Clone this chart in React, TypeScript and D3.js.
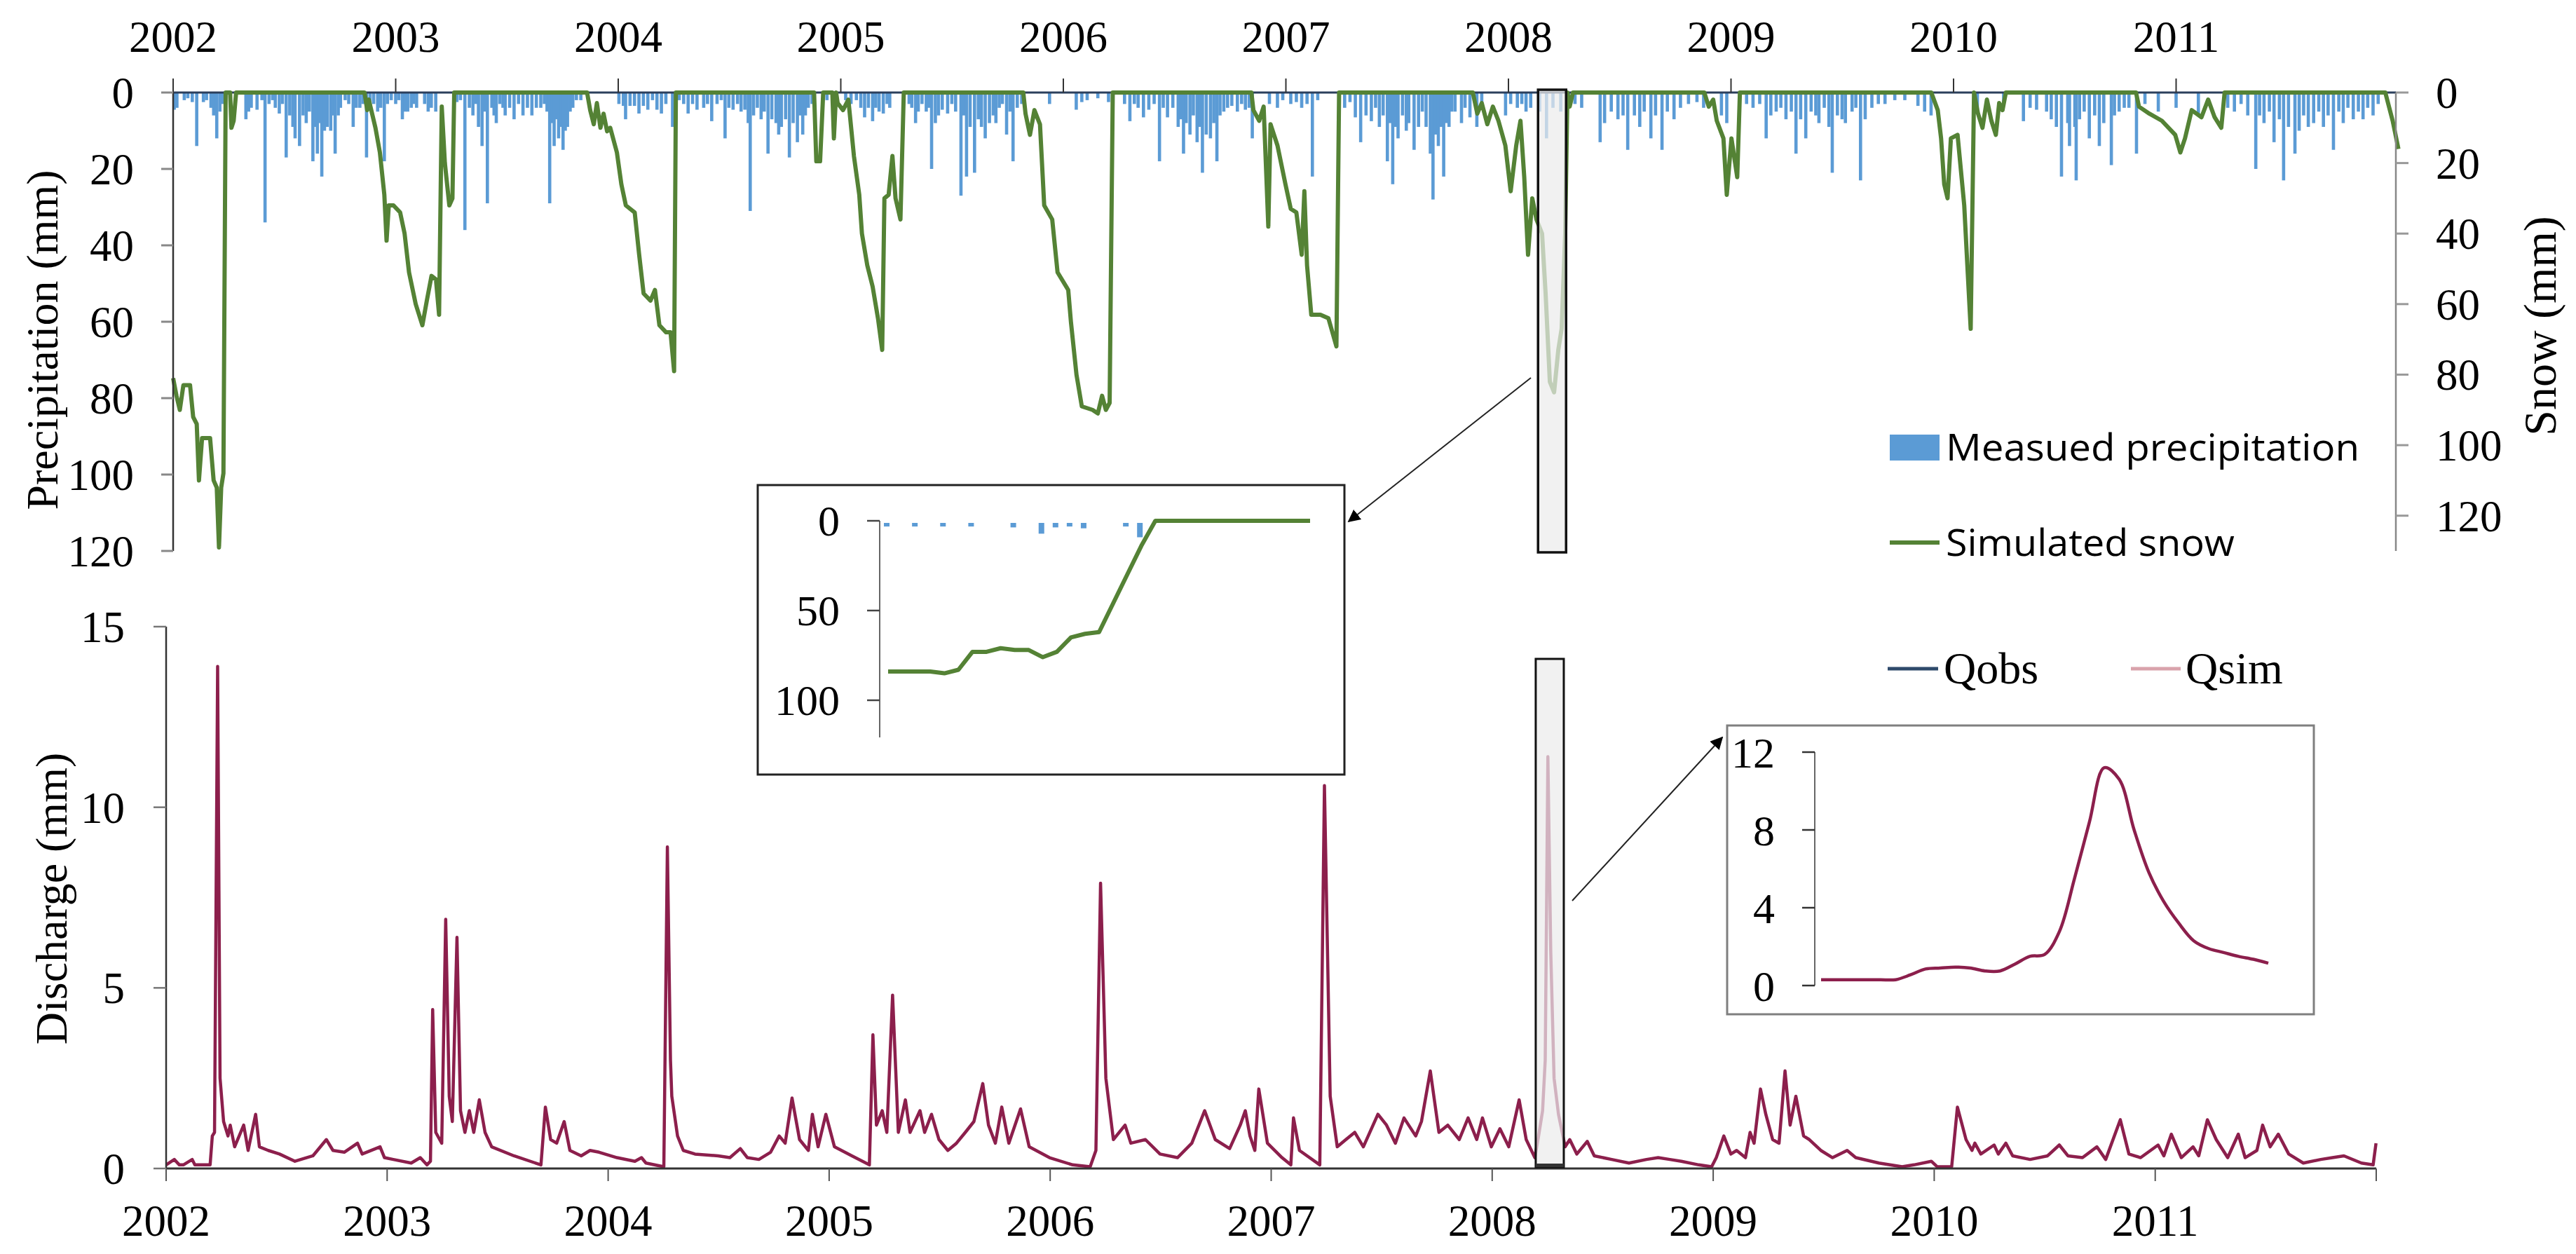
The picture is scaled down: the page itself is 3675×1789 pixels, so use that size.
import React from 'react';
import { scaleLinear, line, curveCatmullRom } from 'd3';

// ---------- values ----------
const yearTicks = [2002, 2003, 2004, 2005, 2006, 2007, 2008, 2009, 2010, 2011];
const precipTicks = [0, 20, 40, 60, 80, 100, 120];
const snowTicks = [0, 20, 40, 60, 80, 100, 120];
const dischargeTicks = [0, 5, 10, 15];
const inset1Ticks = [0, 50, 100];
const inset2Ticks = [0, 4, 8, 12];

// daily precipitation (decimal year, mm)
const precipBars: [number, number][] = [
  [2002.005, 4.5], [2002.017, 4], [2002.05, 2], [2002.066, 1.5], [2002.086, 2.5], [2002.106, 14], [2002.136, 2.5], [2002.15, 2],
  [2002.17, 4], [2002.182, 6], [2002.196, 12], [2002.21, 5], [2002.222, 3],
  [2002.327, 7], [2002.339, 5], [2002.351, 4], [2002.377, 4.5], [2002.399, 2], [2002.413, 34], [2002.431, 3], [2002.447, 2],
  [2002.459, 4], [2002.477, 5.5], [2002.491, 3], [2002.508, 17], [2002.524, 6], [2002.538, 9], [2002.548, 12], [2002.568, 14],
  [2002.584, 6], [2002.598, 8], [2002.612, 5], [2002.628, 18], [2002.638, 9], [2002.648, 16], [2002.658, 8], [2002.668, 22],
  [2002.68, 10], [2002.692, 9], [2002.708, 10], [2002.718, 6], [2002.728, 16], [2002.742, 6], [2002.752, 4], [2002.773, 2],
  [2002.789, 3], [2002.809, 9], [2002.823, 4], [2002.839, 4], [2002.853, 3], [2002.869, 17], [2002.885, 4], [2002.901, 3],
  [2002.919, 5], [2002.933, 4], [2002.949, 18], [2002.963, 3], [2002.98, 2],
  [2003.0, 3], [2003.014, 2], [2003.03, 7], [2003.042, 5], [2003.054, 5], [2003.07, 4], [2003.08, 3], [2003.094, 4],
  [2003.13, 3], [2003.146, 5], [2003.16, 4], [2003.18, 5], [2003.275, 2.5], [2003.291, 2], [2003.311, 36], [2003.331, 4],
  [2003.347, 6], [2003.361, 3], [2003.372, 9], [2003.388, 14], [2003.402, 5], [2003.412, 29], [2003.432, 4], [2003.442, 6],
  [2003.452, 8], [2003.468, 3], [2003.482, 4], [2003.492, 6], [2003.512, 4], [2003.532, 7], [2003.552, 3], [2003.572, 6],
  [2003.592, 4], [2003.612, 6], [2003.632, 4], [2003.652, 4], [2003.668, 3], [2003.68, 5], [2003.692, 29], [2003.704, 8],
  [2003.712, 14], [2003.724, 7], [2003.732, 12], [2003.744, 9], [2003.752, 15], [2003.762, 10], [2003.772, 9], [2003.784, 5],
  [2003.796, 4], [2003.812, 2], [2003.832, 2],
  [2004.003, 3], [2004.023, 3.5], [2004.033, 7], [2004.053, 3.5], [2004.073, 3.5], [2004.093, 5.5], [2004.113, 3.5],
  [2004.133, 4.5], [2004.154, 2], [2004.174, 4.5], [2004.194, 5.5], [2004.214, 3], [2004.244, 9], [2004.274, 2], [2004.294, 3],
  [2004.314, 5.5], [2004.334, 3], [2004.354, 4.5], [2004.384, 4], [2004.401, 3], [2004.42, 7.5], [2004.444, 3], [2004.463, 2],
  [2004.48, 12], [2004.497, 4], [2004.516, 4.5], [2004.536, 3], [2004.552, 5], [2004.569, 4.5], [2004.584, 8], [2004.593, 31],
  [2004.608, 6], [2004.625, 4], [2004.642, 7], [2004.656, 5], [2004.673, 16], [2004.69, 7], [2004.709, 8], [2004.721, 11],
  [2004.733, 9], [2004.752, 7], [2004.769, 17], [2004.786, 8], [2004.805, 13], [2004.817, 6], [2004.829, 11], [2004.841, 6],
  [2004.854, 4], [2004.871, 3], [2004.938, 2],
  [2005.022, 2], [2005.046, 3], [2005.07, 2], [2005.09, 4], [2005.107, 6.5], [2005.124, 4], [2005.143, 7.5], [2005.157, 4],
  [2005.172, 5], [2005.191, 5.5], [2005.208, 3], [2005.22, 4], [2005.307, 3], [2005.319, 4], [2005.336, 8], [2005.348, 5],
  [2005.365, 3], [2005.384, 5], [2005.396, 4], [2005.408, 20], [2005.425, 8], [2005.439, 6], [2005.456, 4.5], [2005.48, 5.5],
  [2005.499, 3], [2005.516, 5], [2005.54, 27], [2005.552, 6], [2005.565, 22], [2005.581, 9], [2005.601, 21], [2005.618, 7],
  [2005.632, 9], [2005.649, 12], [2005.668, 8], [2005.685, 6], [2005.697, 8], [2005.712, 4], [2005.726, 3], [2005.745, 11],
  [2005.76, 5], [2005.774, 18], [2005.793, 4], [2005.813, 3], [2005.938, 3],
  [2006.058, 4.5], [2006.083, 2.5], [2006.107, 2], [2006.155, 1.5], [2006.203, 2.5], [2006.275, 3], [2006.299, 7.5],
  [2006.319, 3], [2006.336, 4], [2006.36, 6.5], [2006.384, 4.5], [2006.408, 3], [2006.432, 18], [2006.449, 4], [2006.468, 6.5],
  [2006.492, 4], [2006.516, 9], [2006.528, 7], [2006.54, 16], [2006.552, 8], [2006.569, 11], [2006.584, 6], [2006.601, 13],
  [2006.613, 9], [2006.625, 21], [2006.642, 11], [2006.661, 12], [2006.676, 8], [2006.69, 18], [2006.704, 6], [2006.721, 5],
  [2006.738, 4], [2006.757, 3.5], [2006.782, 5], [2006.801, 3], [2006.818, 4.5], [2006.835, 4], [2006.849, 12], [2006.926, 3],
  [2006.962, 4], [2006.986, 2],
  [2007.022, 3], [2007.047, 2.5], [2007.071, 4], [2007.095, 3], [2007.119, 22], [2007.143, 2], [2007.264, 4], [2007.288, 2.5],
  [2007.312, 6.5], [2007.336, 13], [2007.36, 6], [2007.384, 7.5], [2007.403, 4], [2007.42, 9], [2007.437, 6], [2007.456, 18],
  [2007.468, 8], [2007.48, 24], [2007.492, 9], [2007.504, 12], [2007.524, 6], [2007.541, 10], [2007.552, 8], [2007.576, 15],
  [2007.596, 9], [2007.613, 5], [2007.63, 9], [2007.649, 16], [2007.661, 28], [2007.673, 11], [2007.685, 14], [2007.697, 9],
  [2007.709, 22], [2007.721, 8], [2007.733, 9], [2007.745, 5], [2007.76, 5], [2007.789, 8], [2007.805, 4], [2007.827, 6.5],
  [2007.858, 9], [2007.88, 3], [2007.987, 6],
  [2008.01, 3], [2008.04, 4], [2008.06, 3], [2008.079, 5], [2008.1, 4], [2008.14, 5], [2008.171, 12], [2008.2, 4],
  [2008.235, 5], [2008.27, 2], [2008.299, 3], [2008.329, 4], [2008.412, 13], [2008.432, 8], [2008.462, 5], [2008.492, 7],
  [2008.515, 6], [2008.536, 15], [2008.566, 6], [2008.59, 9], [2008.61, 5], [2008.64, 12], [2008.661, 6], [2008.69, 15],
  [2008.714, 5], [2008.744, 7], [2008.773, 4], [2008.809, 3], [2008.847, 2.5], [2008.877, 4], [2008.957, 6], [2008.981, 8],
  [2009.07, 3], [2009.099, 4], [2009.129, 3], [2009.158, 12], [2009.179, 6], [2009.203, 5], [2009.224, 4], [2009.247, 7],
  [2009.271, 5], [2009.292, 16], [2009.313, 7], [2009.336, 12], [2009.36, 5], [2009.381, 6], [2009.395, 8], [2009.419, 4],
  [2009.44, 9], [2009.455, 21], [2009.478, 6], [2009.499, 7], [2009.514, 8], [2009.544, 5], [2009.561, 4], [2009.582, 23],
  [2009.603, 7], [2009.633, 4], [2009.662, 3], [2009.692, 3], [2009.736, 2], [2009.781, 2], [2009.84, 3.5], [2009.87, 5],
  [2009.899, 6],
  [2010.107, 4.5], [2010.225, 3], [2010.314, 7.5], [2010.344, 4], [2010.373, 4.5], [2010.418, 5], [2010.439, 7], [2010.462, 9],
  [2010.485, 22], [2010.513, 8], [2010.521, 14], [2010.545, 9], [2010.551, 23], [2010.566, 7], [2010.587, 5], [2010.61, 12],
  [2010.634, 6], [2010.655, 14], [2010.675, 8], [2010.709, 19], [2010.723, 6], [2010.744, 5], [2010.767, 4], [2010.788, 4],
  [2010.822, 16], [2010.86, 3], [2010.92, 5], [2011.0, 4], [2011.1, 6],
  [2011.232, 4], [2011.262, 5], [2011.292, 3], [2011.322, 6], [2011.358, 20], [2011.375, 6], [2011.395, 8], [2011.419, 5],
  [2011.44, 13], [2011.464, 7], [2011.483, 23], [2011.505, 9], [2011.534, 16], [2011.553, 10], [2011.573, 6], [2011.594, 9],
  [2011.618, 8], [2011.641, 5], [2011.662, 9], [2011.683, 6], [2011.707, 15], [2011.731, 5], [2011.751, 8], [2011.772, 4],
  [2011.796, 7], [2011.819, 5], [2011.84, 7], [2011.861, 4], [2011.885, 6], [2011.908, 3],
];

// simulated snow storage (decimal year, mm)
const snowSeries: [number, number][] = [
  [2002.0, 81], [2002.015, 86], [2002.03, 90], [2002.046, 83], [2002.076, 83], [2002.09, 92], [2002.106, 94], [2002.116, 110],
  [2002.13, 98], [2002.166, 98], [2002.182, 110], [2002.196, 112], [2002.206, 129], [2002.216, 112], [2002.226, 108],
  [2002.236, 0], [2002.256, 0], [2002.262, 10], [2002.272, 8], [2002.283, 0],
  [2002.86, 0], [2002.872, 5], [2002.879, 2], [2002.909, 10], [2002.929, 17], [2002.949, 29], [2002.959, 42], [2002.969, 32],
  [2002.99, 32], [2003.02, 34], [2003.04, 40], [2003.06, 51], [2003.09, 60], [2003.12, 66], [2003.14, 59], [2003.161, 52],
  [2003.181, 53], [2003.195, 63], [2003.207, 4], [2003.221, 20], [2003.241, 32], [2003.255, 30], [2003.263, 0],
  [2003.86, 0], [2003.874, 5], [2003.89, 9], [2003.904, 3], [2003.92, 10], [2003.934, 6], [2003.95, 11], [2003.964, 10],
  [2003.994, 17], [2004.014, 26], [2004.034, 32], [2004.074, 34], [2004.094, 46], [2004.114, 57], [2004.145, 59],
  [2004.165, 56], [2004.185, 66], [2004.215, 68], [2004.235, 68], [2004.251, 79], [2004.259, 0],
  [2004.88, 0], [2004.89, 19.5], [2004.907, 19.5], [2004.921, 0], [2004.962, 0], [2004.969, 13], [2004.979, 0], [2004.986, 3],
  [2005.01, 5], [2005.034, 2], [2005.059, 18], [2005.083, 29], [2005.095, 40], [2005.119, 49], [2005.143, 55], [2005.167, 64],
  [2005.186, 73], [2005.196, 30], [2005.215, 29], [2005.232, 18], [2005.246, 30], [2005.268, 36], [2005.283, 0],
  [2005.82, 0], [2005.83, 6], [2005.85, 12], [2005.87, 5], [2005.895, 9], [2005.914, 32], [2005.95, 36], [2005.974, 51],
  [2006.022, 56], [2006.034, 65], [2006.059, 80], [2006.083, 89], [2006.131, 90], [2006.155, 91], [2006.174, 86],
  [2006.191, 90], [2006.208, 88], [2006.222, 0],
  [2006.845, 0], [2006.854, 5], [2006.88, 8], [2006.9, 4], [2006.921, 38], [2006.931, 9], [2006.962, 15], [2006.998, 26],
  [2007.022, 33], [2007.047, 34], [2007.071, 46], [2007.083, 28], [2007.095, 49], [2007.114, 63], [2007.155, 63],
  [2007.191, 64], [2007.227, 72], [2007.239, 0],
  [2007.84, 0], [2007.86, 6], [2007.88, 3], [2007.905, 9], [2007.93, 4], [2007.955, 8], [2007.986, 15], [2008.01, 28],
  [2008.035, 15], [2008.054, 8], [2008.071, 24], [2008.088, 46], [2008.107, 30], [2008.126, 36], [2008.151, 40],
  [2008.167, 57], [2008.186, 82], [2008.205, 85], [2008.224, 73], [2008.239, 67], [2008.255, 40], [2008.265, 0],
  [2008.275, 4], [2008.29, 0],
  [2008.88, 0], [2008.9, 4], [2008.92, 2], [2008.936, 8], [2008.966, 13], [2008.981, 29], [2009.002, 13], [2009.028, 24],
  [2009.04, 0],
  [2009.9, 0], [2009.929, 5], [2009.944, 13], [2009.958, 26], [2009.973, 30], [2009.988, 13], [2010.018, 12], [2010.048, 32],
  [2010.062, 49], [2010.077, 67], [2010.092, 0], [2010.11, 6], [2010.13, 10], [2010.15, 2], [2010.17, 8], [2010.19, 12],
  [2010.205, 3], [2010.22, 5], [2010.235, 0],
  [2010.82, 0], [2010.833, 4], [2010.88, 6], [2010.936, 8], [2010.996, 12], [2011.019, 17], [2011.04, 13], [2011.07, 5],
  [2011.114, 7], [2011.144, 2], [2011.173, 7], [2011.203, 10], [2011.218, 0],
  [2011.94, 0], [2011.973, 8], [2011.999, 16],
];

// simulated discharge (decimal year, mm)
const discharge: [number, number][] = [
  [2002.0, 0.1], [2002.037, 0.25], [2002.06, 0.1], [2002.078, 0.1], [2002.118, 0.25], [2002.13, 0.1], [2002.199, 0.1],
  [2002.209, 0.9], [2002.219, 1.0], [2002.233, 13.9], [2002.244, 2.5], [2002.26, 1.3], [2002.28, 0.9], [2002.29, 1.2],
  [2002.31, 0.6], [2002.351, 1.2], [2002.371, 0.5], [2002.405, 1.5], [2002.422, 0.6], [2002.462, 0.5], [2002.513, 0.4],
  [2002.583, 0.2], [2002.664, 0.35], [2002.725, 0.8], [2002.755, 0.5], [2002.806, 0.45], [2002.866, 0.7], [2002.887, 0.4],
  [2002.968, 0.6], [2002.988, 0.3], [2003.028, 0.25], [2003.109, 0.15], [2003.15, 0.3], [2003.18, 0.1], [2003.196, 0.2],
  [2003.206, 4.4], [2003.22, 1.0], [2003.247, 0.7], [2003.265, 6.9], [2003.281, 2.0], [2003.295, 1.3], [2003.316, 6.4],
  [2003.332, 1.6], [2003.352, 1.0], [2003.372, 1.6], [2003.392, 1.0], [2003.417, 1.9], [2003.443, 1.0], [2003.473, 0.6],
  [2003.574, 0.35], [2003.696, 0.1], [2003.716, 1.7], [2003.74, 0.8], [2003.767, 0.7], [2003.801, 1.3], [2003.827, 0.5],
  [2003.878, 0.35], [2003.918, 0.5], [2003.959, 0.45], [2004.04, 0.3], [2004.121, 0.2], [2004.151, 0.3], [2004.171, 0.15],
  [2004.252, 0.05], [2004.268, 8.9], [2004.282, 3.0], [2004.288, 2.0], [2004.314, 0.9], [2004.34, 0.5], [2004.393, 0.4],
  [2004.498, 0.35], [2004.551, 0.3], [2004.598, 0.55], [2004.63, 0.3], [2004.682, 0.25], [2004.735, 0.45], [2004.774, 0.9],
  [2004.801, 0.7], [2004.832, 1.95], [2004.866, 0.8], [2004.906, 0.5], [2004.924, 1.5], [2004.95, 0.6], [2004.985, 1.5],
  [2005.024, 0.6], [2005.103, 0.35], [2005.182, 0.1], [2005.198, 3.7], [2005.214, 1.2], [2005.24, 1.6], [2005.261, 1.0],
  [2005.287, 4.8], [2005.313, 1.0], [2005.345, 1.9], [2005.366, 1.0], [2005.411, 1.6], [2005.432, 1.0], [2005.463, 1.5],
  [2005.497, 0.8], [2005.537, 0.5], [2005.576, 0.7], [2005.616, 1.0], [2005.655, 1.3], [2005.695, 2.35], [2005.721, 1.2],
  [2005.752, 0.7], [2005.781, 1.7], [2005.813, 0.7], [2005.866, 1.65], [2005.905, 0.6], [2005.997, 0.3], [2006.102, 0.1],
  [2006.181, 0.05], [2006.207, 0.5], [2006.228, 7.9], [2006.252, 2.5], [2006.286, 0.8], [2006.339, 1.2], [2006.365, 0.7],
  [2006.431, 0.8], [2006.497, 0.4], [2006.576, 0.3], [2006.641, 0.7], [2006.699, 1.6], [2006.747, 0.8], [2006.812, 0.55],
  [2006.86, 1.2], [2006.883, 1.6], [2006.904, 0.9], [2006.926, 0.5], [2006.944, 2.2], [2006.983, 0.7], [2007.049, 0.3],
  [2007.089, 0.1], [2007.101, 1.4], [2007.128, 0.5], [2007.22, 0.1], [2007.241, 10.6], [2007.267, 2.0], [2007.299, 0.6],
  [2007.338, 0.8], [2007.378, 1.0], [2007.417, 0.6], [2007.483, 1.5], [2007.522, 1.2], [2007.562, 0.7], [2007.601, 1.4],
  [2007.654, 0.9], [2007.68, 1.3], [2007.72, 2.7], [2007.759, 1.0], [2007.799, 1.2], [2007.851, 0.8], [2007.891, 1.4],
  [2007.93, 0.8], [2007.956, 1.4], [2007.996, 0.6], [2008.035, 1.1], [2008.075, 0.6], [2008.122, 1.9], [2008.154, 0.8],
  [2008.193, 0.3], [2008.21, 0.9], [2008.228, 1.6], [2008.24, 3.0], [2008.252, 11.4], [2008.265, 6.0], [2008.28, 2.5],
  [2008.3, 1.5], [2008.33, 0.6], [2008.351, 0.8], [2008.383, 0.4], [2008.43, 0.75], [2008.462, 0.35], [2008.541, 0.25],
  [2008.619, 0.15], [2008.698, 0.25], [2008.751, 0.3], [2008.804, 0.25], [2008.856, 0.2], [2008.935, 0.1], [2008.993, 0.05],
  [2009.014, 0.3], [2009.048, 0.9], [2009.08, 0.4], [2009.106, 0.5], [2009.146, 0.3], [2009.167, 1.0], [2009.185, 0.7],
  [2009.214, 2.2], [2009.238, 1.5], [2009.269, 0.8], [2009.298, 0.7], [2009.325, 2.7], [2009.348, 1.2], [2009.374, 2.0],
  [2009.409, 0.9], [2009.435, 0.8], [2009.487, 0.5], [2009.54, 0.3], [2009.606, 0.5], [2009.645, 0.3], [2009.75, 0.15],
  [2009.855, 0.05], [2009.908, 0.1], [2009.987, 0.2], [2010.013, 0.05], [2010.079, 0.05], [2010.105, 1.7], [2010.144, 0.8],
  [2010.171, 0.5], [2010.184, 0.7], [2010.211, 0.4], [2010.271, 0.65], [2010.29, 0.4], [2010.324, 0.7], [2010.355, 0.35],
  [2010.434, 0.25], [2010.513, 0.35], [2010.566, 0.65], [2010.605, 0.35], [2010.671, 0.3], [2010.736, 0.6], [2010.776, 0.25],
  [2010.842, 1.35], [2010.881, 0.4], [2010.934, 0.3], [2011.013, 0.65], [2011.039, 0.35], [2011.073, 0.95], [2011.118, 0.3],
  [2011.171, 0.6], [2011.197, 0.35], [2011.236, 1.35], [2011.276, 0.8], [2011.328, 0.3], [2011.376, 0.95], [2011.407, 0.3],
  [2011.46, 0.5], [2011.486, 1.2], [2011.52, 0.6], [2011.557, 0.95], [2011.604, 0.4], [2011.67, 0.15], [2011.749, 0.25],
  [2011.802, 0.3], [2011.854, 0.35], [2011.933, 0.15], [2011.986, 0.1], [2011.999, 0.7],
];

// zoomed spring 2008: daily snow, precipitation and discharge
const insetSnow = [84, 84, 84, 84, 85, 83, 73, 73, 71, 72, 72, 76, 73, 65, 63, 62, 46, 30, 14, 0, 0, 0, 0, 0, 0, 0, 0, 0, 0, 0, 0];
const insetPrecip = [2, 0, 2, 0, 2, 0, 2, 0, 0, 2.5, 0, 6, 2.5, 2, 3, 0, 0, 2, 8, 0, 0, 0, 0, 0, 0, 0, 0, 0, 0, 0, 0];
const insetQ = [0.3, 0.3, 0.3, 0.3, 0.3, 0.3, 0.55, 0.85, 0.9, 0.95, 0.9, 0.75, 0.75, 1.1, 1.5, 1.6, 2.8, 5.5, 8.4, 11.2,
  10.6, 8.0, 5.8, 4.3, 3.2, 2.3, 1.9, 1.7, 1.5, 1.35, 1.15];

const serif = '"Liberation Serif", "Times New Roman", serif';
const sans = '"Open Sans", "Liberation Sans", sans-serif';
const blue = '#5B9BD5';
const green = '#548235';
const maroon = '#8C1F4C';

export default function App() {
  const W = 3675, H = 1789;

  const xTop = scaleLinear().domain([2002, 2012]).range([247, 3422]);
  const xBot = scaleLinear().domain([2002, 2012]).range([237, 3390]);
  const yPrecip = scaleLinear().domain([0, 120]).range([132, 786]);
  const ySnow = scaleLinear().domain([0, 130]).range([132, 786]);
  const yQ = scaleLinear().domain([0, 15]).range([1667, 894]);

  const xIn1 = scaleLinear().domain([0, insetSnow.length - 1]).range([1267, 1869]);
  const yIn1 = scaleLinear().domain([0, 100]).range([743, 999]);
  const xIn2 = scaleLinear().domain([0, insetQ.length - 1]).range([2598, 3236]);
  const yIn2 = scaleLinear().domain([0, 12]).range([1406, 1073]);

  const snowLine = line<[number, number]>().x((d) => xTop(d[0])).y((d) => ySnow(d[1]));
  const qLine = line<[number, number]>().x((d) => xBot(d[0])).y((d) => yQ(d[1]));
  const in1Line = line<number>().x((d, i) => xIn1(i)).y((d) => yIn1(d));
  const in2Line = line<number>().curve(curveCatmullRom).x((d, i) => xIn2(i)).y((d) => yIn2(d));

  // highlighted periods (spring 2008 melt)
  const hlTop = [2008.133, 2008.259];
  const hlBot = [2008.197, 2008.324];

  return (
    <svg width={W} height={H} style={{ position: 'absolute', left: 0, top: 0, background: '#fff' }} fontFamily={serif}>
      <defs>
        <marker id="arr" viewBox="0 0 10 10" refX="9" refY="5" markerWidth="9" markerHeight="9" orient="auto-start-reverse">
          <path d="M0,0 L10,5 L0,10 z" fill="#000" />
        </marker>
      </defs>
      <rect width={W} height={H} fill="#fff" />

      {/* ---------------- top panel ---------------- */}
      {precipBars.map((d, i) => (
        <rect key={'p' + i} x={xTop(d[0]) - 2.3} y={yPrecip(0)} width={4.6} height={yPrecip(d[1]) - yPrecip(0)} fill={blue} />
      ))}
      {/* top axis */}
      <line x1={xTop(2002)} x2={3418} y1={yPrecip(0)} y2={yPrecip(0)} stroke="#2b3f5c" strokeWidth={3} />
      <path d={snowLine(snowSeries) || ''} fill="none" stroke={green} strokeWidth={6} strokeLinejoin="round" />
      {yearTicks.map((yr) => (
        <g key={'tt' + yr}>
          <line x1={xTop(yr)} x2={xTop(yr)} y1={112} y2={yPrecip(0)} stroke="#333" strokeWidth={2} />
          <text x={xTop(yr)} y={74} fontSize={63} textAnchor="middle">{yr}</text>
        </g>
      ))}
      {/* left precipitation axis */}
      <line x1={247} x2={247} y1={yPrecip(0)} y2={yPrecip(120)} stroke="#333" strokeWidth={2.5} />
      {precipTicks.map((t) => (
        <g key={'pt' + t}>
          <line x1={230} x2={247} y1={yPrecip(t)} y2={yPrecip(t)} stroke="#888" strokeWidth={3} />
          <text x={191} y={yPrecip(t) + 22} fontSize={63} textAnchor="end">{t}</text>
        </g>
      ))}
      <text transform="translate(60,485) rotate(-90)" fontSize={64} textAnchor="middle" dominantBaseline="central">Precipitation (mm)</text>
      {/* right snow axis */}
      <line x1={3418} x2={3418} y1={yPrecip(0)} y2={ySnow(130)} stroke="#888" strokeWidth={2.5} />
      {snowTicks.map((t) => (
        <g key={'st' + t}>
          <line x1={3418} x2={3436} y1={ySnow(t)} y2={ySnow(t)} stroke="#999" strokeWidth={3} />
          <text x={3475} y={ySnow(t) + 22} fontSize={63} textAnchor="start">{t}</text>
        </g>
      ))}
      <text transform="translate(3623,465) rotate(-90)" fontSize={66} textAnchor="middle" dominantBaseline="central">Snow (mm)</text>

      {/* legend top */}
      <rect x={2696} y={620} width={71} height={37} fill={blue} />
      <text x={2776} y={657} fontFamily={sans} fontSize={53} textLength={590} lengthAdjust="spacingAndGlyphs">Measued precipitation</text>
      <line x1={2696} x2={2767} y1={774} y2={774} stroke={green} strokeWidth={6} />
      <text x={2776} y={793} fontFamily={sans} fontSize={53} textLength={412} lengthAdjust="spacingAndGlyphs">Simulated snow</text>

      {/* highlight box top */}
      <rect x={xTop(hlTop[0])} y={128} width={xTop(hlTop[1]) - xTop(hlTop[0])} height={660} fill="#ececec" fillOpacity={0.72} stroke="#111" strokeWidth={3.5} />

      {/* ---------------- bottom panel ---------------- */}
      <path d={qLine(discharge) || ''} fill="none" stroke={maroon} strokeWidth={4.5} strokeLinejoin="round" />
      <line x1={237} x2={3390} y1={yQ(0)} y2={yQ(0)} stroke="#333" strokeWidth={3} />
      {[...yearTicks, 2012].map((yr) => (
        <line key={'bt' + yr} x1={xBot(yr)} x2={xBot(yr)} y1={yQ(0)} y2={1685} stroke="#555" strokeWidth={2} />
      ))}
      {yearTicks.map((yr) => (
        <text key={'bl' + yr} x={xBot(yr)} y={1763} fontSize={63} textAnchor="middle">{yr}</text>
      ))}
      <line x1={237} x2={237} y1={yQ(15)} y2={yQ(0)} stroke="#333" strokeWidth={2.5} />
      {dischargeTicks.map((t) => (
        <g key={'qt' + t}>
          <line x1={219} x2={237} y1={yQ(t)} y2={yQ(t)} stroke="#777" strokeWidth={2.5} />
          <text x={178} y={yQ(t) + 22} fontSize={63} textAnchor="end">{t}</text>
        </g>
      ))}
      <text transform="translate(73,1282) rotate(-90)" fontSize={64} textAnchor="middle" dominantBaseline="central">Discharge (mm)</text>

      {/* legend bottom */}
      <line x1={2693} x2={2765} y1={954} y2={954} stroke="#2E4A6B" strokeWidth={5} />
      <text x={2773} y={975} fontSize={64}>Qobs</text>
      <line x1={3040} x2={3111} y1={954} y2={954} stroke="#D9A3AC" strokeWidth={5} />
      <text x={3118} y={975} fontSize={64}>Qsim</text>

      {/* highlight box bottom */}
      <rect x={xBot(hlBot[0])} y={940} width={xBot(hlBot[1]) - xBot(hlBot[0])} height={725} fill="#ececec" fillOpacity={0.72} stroke="#111" strokeWidth={3} />
      <rect x={xBot(hlBot[0])} y={1660} width={xBot(hlBot[1]) - xBot(hlBot[0])} height={5} fill="#333" />

      {/* ---------------- inset 1: snow & precipitation ---------------- */}
      <rect x={1081} y={692} width={837} height={413} fill="#fff" stroke="#222" strokeWidth={3} />
      {insetPrecip.map((v, i) => v > 0 ? (
        <rect key={'ip' + i} x={xIn1(i) - 6} y={yIn1(0) + 3} width={8} height={yIn1(v) - yIn1(0)} fill={blue} />
      ) : null)}
      <path d={in1Line(insetSnow) || ''} fill="none" stroke={green} strokeWidth={6} strokeLinejoin="round" />
      <line x1={1255} x2={1255} y1={yIn1(0)} y2={1052} stroke="#666" strokeWidth={2} />
      {inset1Ticks.map((t) => (
        <g key={'i1' + t}>
          <line x1={1237} x2={1255} y1={yIn1(t)} y2={yIn1(t)} stroke="#444" strokeWidth={2.5} />
          <text x={1198} y={yIn1(t) + 21} fontSize={62} textAnchor="end">{t}</text>
        </g>
      ))}

      {/* ---------------- inset 2: discharge ---------------- */}
      <rect x={2464} y={1035} width={837} height={412} fill="#fff" stroke="#7f7f7f" strokeWidth={3} />
      <path d={in2Line(insetQ) || ''} fill="none" stroke={maroon} strokeWidth={4.5} strokeLinejoin="round" />
      <line x1={2589} x2={2589} y1={yIn2(12)} y2={yIn2(0)} stroke="#666" strokeWidth={2} />
      {inset2Ticks.map((t) => (
        <g key={'i2' + t}>
          <line x1={2571} x2={2589} y1={yIn2(t)} y2={yIn2(t)} stroke="#333" strokeWidth={2.5} />
          <text x={2532} y={yIn2(t) + 22} fontSize={62} textAnchor="end">{t}</text>
        </g>
      ))}

      {/* connector arrows */}
      <line x1={2184} y1={539} x2={1924} y2={744} stroke="#222" strokeWidth={2} markerEnd="url(#arr)" />
      <line x1={2243} y1={1285} x2={2457} y2={1052} stroke="#222" strokeWidth={2} markerEnd="url(#arr)" />
    </svg>
  );
}
